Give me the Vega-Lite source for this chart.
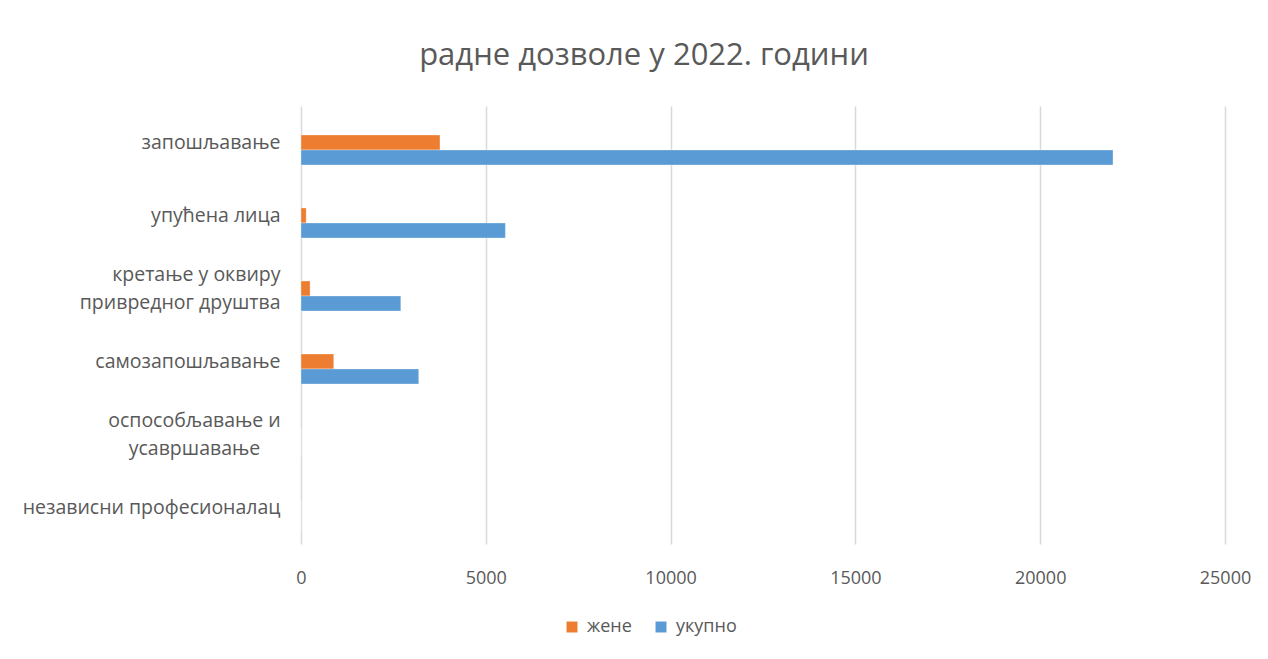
{
  "$schema": "https://vega.github.io/schema/vega-lite/v6.json",
  "autosize": "none",
  "width": 924,
  "height": 438,
  "padding": {"left": 301, "top": 106, "right": 43, "bottom": 115},
  "background": "white",
  "title": {
    "text": "радне дозволе у 2022. години",
    "font": "Open Sans",
    "fontSize": 31,
    "fontWeight": "normal",
    "color": "#595959",
    "anchor": "middle",
    "dx": -119,
    "offset": 34
  },
  "data": {
    "values": [
      {"category": "запошљавање", "series": "жене", "value": 3760},
      {"category": "запошљавање", "series": "укупно", "value": 21970},
      {"category": "упућена лица", "series": "жене", "value": 140},
      {"category": "упућена лица", "series": "укупно", "value": 5530},
      {"category": "кретање у оквиру привредног друштва", "series": "жене", "value": 245},
      {"category": "кретање у оквиру привредног друштва", "series": "укупно", "value": 2700},
      {"category": "самозапошљавање", "series": "жене", "value": 885},
      {"category": "самозапошљавање", "series": "укупно", "value": 3185},
      {"category": "оспособљавање и усавршавање", "series": "жене", "value": 0},
      {"category": "оспособљавање и усавршавање", "series": "укупно", "value": 0},
      {"category": "независни професионалац", "series": "жене", "value": 0},
      {"category": "независни професионалац", "series": "укупно", "value": 0}
    ]
  },
  "mark": {"type": "bar", "stroke": "white", "strokeWidth": 0.5, "strokeOpacity": 0.6},
  "encoding": {
    "y": {
      "field": "category",
      "type": "nominal",
      "sort": null,
      "scale": {"paddingInner": 0.384, "paddingOuter": 0.192},
      "axis": {
        "title": null,
        "ticks": false,
        "domain": false,
        "labelPadding": {"condition": {"test": "datum.value == 'оспособљавање и усавршавање'", "value": 107}, "value": 21},
        "labelAlign": {"condition": {"test": "datum.value == 'оспособљавање и усавршавање'", "value": "center"}, "value": "right"},
        "labelOffset": {"condition": {"test": "datum.value == 'кретање у оквиру привредног друштва' || datum.value == 'оспособљавање и усавршавање'", "value": -14}, "value": 0},
        "labelFont": "Open Sans",
        "labelFontSize": 19.5,
        "labelColor": "#595959",
        "labelLineHeight": 28,
        "labelLimit": 400,
        "labelExpr": "datum.label == 'кретање у оквиру привредног друштва' ? ['кретање у оквиру', 'привредног друштва'] : datum.label == 'оспособљавање и усавршавање' ? ['оспособљавање и', 'усавршавање'] : datum.label"
      }
    },
    "yOffset": {
      "field": "series",
      "type": "nominal",
      "scale": {"domain": ["_", "жене", "укупно"], "paddingInner": 0, "paddingOuter": 0}
    },
    "x": {
      "field": "value",
      "type": "quantitative",
      "scale": {"domain": [0, 25000], "nice": false},
      "axis": {
        "title": null,
        "values": [0, 5000, 10000, 15000, 20000, 25000],
        "format": "d",
        "ticks": false,
        "domain": false,
        "grid": true,
        "gridColor": "#d9d9d9",
        "gridWidth": 1.5,
        "labelFlush": false,
        "labelPadding": 25,
        "labelFont": "Open Sans",
        "labelFontSize": 18,
        "labelColor": "#595959"
      }
    },
    "color": {
      "field": "series",
      "type": "nominal",
      "scale": {"domain": ["жене", "укупно"], "range": ["#ED7D31", "#5B9BD5"]},
      "legend": {
        "title": null,
        "orient": "none",
        "direction": "horizontal",
        "legendX": 262,
        "legendY": 512,
        "symbolType": "square",
        "symbolSize": 120,
        "symbolStrokeWidth": 0,
        "labelFont": "Open Sans",
        "labelFontSize": 18,
        "labelColor": "#595959",
        "columnPadding": 20,
        "labelOffset": 6
      }
    }
  },
  "config": {"view": {"stroke": null}}
}
